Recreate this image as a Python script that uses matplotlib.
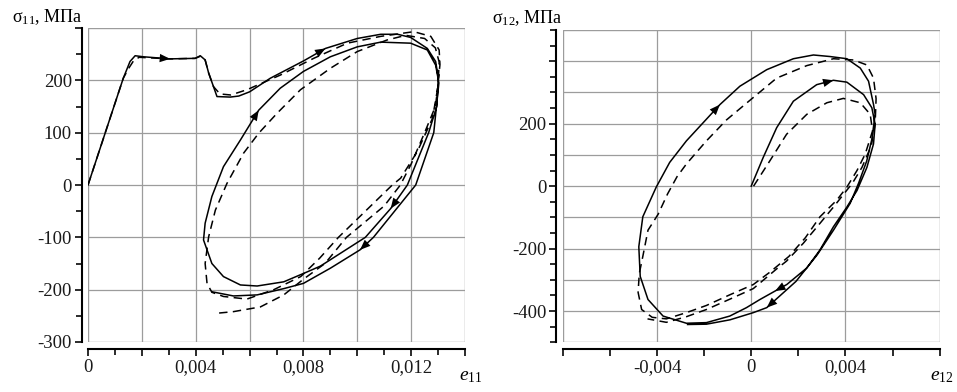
import numpy as np
import matplotlib
matplotlib.use('Agg')
import matplotlib.pyplot as plt
from matplotlib.patches import Rectangle

plt.rcParams['font.family'] = ['Liberation Serif', 'DejaVu Serif']
plt.rcParams['mathtext.fontset'] = 'custom'
plt.rcParams['mathtext.rm'] = 'Liberation Serif'
plt.rcParams['mathtext.it'] = 'Liberation Serif:italic'

# ---- left panel: sigma11 vs e11 ----
e11_solid = [0, 0.00131, 0.00156, 0.00175, 0.00206, 0.00305, 0.00398, 0.00417, 0.00435, 0.00448,
             0.00466, 0.00479, 0.00528, 0.00560, 0.0060, 0.00677, 0.0080, 0.00882, 0.0100, 0.01087,
             0.0115, 0.01198, 0.0126, 0.01291, 0.01301, 0.01295, 0.01265, 0.01186, 0.01124, 0.0103,
             0.00863, 0.00814, 0.00727, 0.00628, 0.00566, 0.00503, 0.0046, 0.00429, 0.00435, 0.0046,
             0.00503, 0.00566, 0.00634, 0.00714, 0.0080, 0.0090, 0.0100, 0.01087, 0.01198, 0.0126,
             0.01291, 0.01303, 0.01284, 0.01217, 0.0106, 0.0101, 0.0090, 0.0080, 0.00727, 0.00628,
             0.0054, 0.0046]
s11_solid = [0, 204, 236, 247, 245, 241, 242, 247, 239, 214,
             188, 169, 168, 170, 178, 204, 237, 261, 280, 288,
             288, 282, 261, 236, 204, 150, 100, 0, -45, -100,
             -155, -166, -185, -193, -191, -175, -150, -105, -73, -22,
             35, 86, 143, 185, 217, 245, 264, 273, 271, 258,
             229, 195, 100, 0, -100, -124, -159, -188, -198, -210,
             -212, -204]
e11_dash = [0, 0.00131, 0.0015, 0.0017, 0.0019, 0.00305, 0.00398, 0.00417, 0.00435, 0.00448,
            0.00466, 0.0049, 0.0053, 0.0059, 0.00714, 0.00838, 0.00963, 0.01087, 0.0121, 0.01273,
            0.01304, 0.01307, 0.01297, 0.01279, 0.01223, 0.01161, 0.0113, 0.0093, 0.0086, 0.0079,
            0.0069, 0.0059, 0.00503, 0.0046, 0.00442, 0.00435, 0.00448, 0.00473, 0.00516, 0.00578,
            0.00634, 0.00702, 0.00789, 0.0090, 0.0100, 0.0111, 0.0118, 0.0125, 0.0129, 0.01304,
            0.0130, 0.0129, 0.0125, 0.0120, 0.0116, 0.0110, 0.0096, 0.0088, 0.0080, 0.00727,
            0.0064, 0.0054, 0.0048]
s11_dash = [0, 204, 222, 238, 244, 241, 242, 246, 239, 214,
            188, 174, 172, 182, 210, 242, 271, 284, 293, 284,
            258, 230, 180, 127, 64, 13, 0, -100, -140, -175,
            -200, -218, -213, -205, -188, -150, -99, -48, 3, 61,
            99, 137, 182, 223, 255, 277, 286, 280, 262, 235,
            190, 150, 100, 40, 0, -40, -100, -150, -180, -210,
            -233, -242, -245]
arrows_left = [(4, 5), (16, 17), (41, 42), (27, 28), (54, 55)]

# ---- right panel: sigma12 vs e12 ----
e12_solid = [0, 0.00051, 0.00108, 0.00179, 0.00278, 0.00349, 0.00406, 0.00477, 0.00512, 0.00526,
             0.00519, 0.00491, 0.00449, 0.00406, 0.00349, 0.00292, 0.00236, 0.00151, 0.00101, 0.00037,
             -0.0002, -0.00091, -0.0019, -0.00275, -0.00374, -0.00438, -0.00471, -0.00477, -0.0046, -0.00403,
             -0.00346, -0.00275, -0.00204, -0.00133, -0.00048, 0.00066, 0.00179, 0.00264, 0.00335, 0.00406,
             0.00463, 0.00498, 0.00519, 0.00526, 0.00512, 0.0049, 0.00456, 0.0042, 0.0035, 0.0028,
             0.0019, 0.00066, 0.00009, -0.0009, -0.0019, -0.0027]
s12_solid = [0, 92, 187, 272, 325, 339, 333, 293, 251, 198,
             135, 60, -14, -67, -130, -204, -262, -315, -336, -363,
             -389, -416, -437, -439, -416, -363, -289, -194, -98, -3,
             76, 145, 203, 261, 320, 373, 408, 420, 415, 408,
             378, 336, 262, 230, 150, 80, 10, -55, -140, -220,
             -305, -389, -405, -428, -442, -443]
e12_dash = [0.0001, 0.0008, 0.0015, 0.00236, 0.00321, 0.00391, 0.00463, 0.00505, 0.00515, 0.00484,
            0.00449, 0.00406, 0.00363, 0.00292, 0.0023, 0.0016, 0.0008, 0.00009, -0.00091, -0.0019,
            -0.00275, -0.0036, -0.0042, -0.00465, -0.0048, -0.00475, -0.0046, -0.00438, -0.00395, -0.00355,
            -0.00315, -0.00275, -0.0019, -0.00105, -0.0001, 0.00108, 0.00236, 0.00349, 0.00434, 0.00491,
            0.00519, 0.0053, 0.00526, 0.0051, 0.0047, 0.0043, 0.00349, 0.00292, 0.00221, 0.0015,
            0.00108, 0.00009, -0.00091, -0.0019, -0.00275, -0.0036, -0.0044]
s12_dash = [0, 82, 166, 230, 267, 281, 267, 230, 177, 103,
            50, -3, -45, -98, -165, -225, -275, -315, -348, -382,
            -405, -425, -420, -395, -340, -280, -225, -141, -90, -25,
            30, 71, 145, 212, 272, 346, 386, 408, 404, 388,
            346, 280, 200, 130, 60, 10, -67, -119, -183, -240,
            -265, -328, -362, -395, -418, -436, -425]
arrows_right = [(4, 5), (32, 33), (17, 18), (50, 51)]

right_xgrid = [-0.004, 0, 0.004]

fig = plt.figure(figsize=(9.57, 3.92), dpi=100)
ax1 = fig.add_axes([88 / 957, 50 / 392, 377 / 957, 314 / 392])
ax2 = fig.add_axes([562.7 / 957, 49.7 / 392, 377 / 957, 312.3 / 392])

grid_c = '#9c9c9c'


def style_axes(ax, xlim, ylim, xgrid, ygrid):
    ax.set_xlim(*xlim)
    ax.set_ylim(*ylim)
    for g in xgrid:
        ax.axvline(g, color=grid_c, lw=0.9, zorder=0)
    for g in ygrid:
        ax.axhline(g, color=grid_c, lw=0.9, zorder=0)
    ax.add_patch(Rectangle((0, 0), 1, 1, transform=ax.transAxes, fill=False,
                           ec=grid_c, lw=1.0, zorder=0))
    ax.spines['top'].set_visible(False)
    ax.spines['right'].set_visible(False)
    ax.spines['left'].set_position(('outward', 4.5))
    ax.spines['bottom'].set_position(('outward', 5))
    ax.spines['left'].set_linewidth(1.5)
    ax.spines['bottom'].set_linewidth(1.5)
    ax.tick_params(which='both', direction='out', width=1.3, labelsize=13.5, colors='#1a1a1a')
    ax.tick_params(which='major', length=5, pad=2)
    ax.tick_params(which='minor', length=4)


def draw_curves(ax, xs, ys, xd, yd, arrows):
    ax.plot(xs, ys, color='k', lw=1.1, zorder=3)
    ax.plot(xd, yd, color='k', lw=1.1, dashes=(5.5, 3.5), zorder=3)
    for a, b in arrows:
        ax.annotate('', xy=(xs[b], ys[b]), xytext=(xs[a], ys[a]),
                    arrowprops=dict(arrowstyle='-|>,head_length=0.75,head_width=0.3',
                                    color='k', lw=0, shrinkA=0, shrinkB=0,
                                    mutation_scale=10), zorder=4)


# left panel
style_axes(ax1, (0, 0.014), (-300, 300),
           np.arange(0.002, 0.0139, 0.002), np.arange(-200, 201, 100))
draw_curves(ax1, e11_solid, s11_solid, e11_dash, s11_dash, arrows_left)
ax1.set_xticks(np.arange(0, 0.01401, 0.002), minor=False)
ax1.set_xticklabels(['0', '', '0,004', '', '0,008', '', '0,012', ''])
ax1.set_xticks(np.arange(0, 0.01401, 0.001), minor=True)
ax1.set_yticks(np.arange(-300, 301, 100))
ax1.set_yticklabels(['-300', '-200', '-100', '0', '100', '200', ''])
ax1.set_yticks(np.arange(-300, 301, 50), minor=True)

# right panel
style_axes(ax2, (-0.008, 0.008), (-500, 500),
           right_xgrid, np.arange(-400, 401, 100))
draw_curves(ax2, e12_solid, s12_solid, e12_dash, s12_dash, arrows_right)
ax2.set_xticks(np.arange(-0.008, 0.00801, 0.002))
ax2.set_xticklabels(['', '', '-0,004', '', '0', '', '0,004', '', ''])
ax2.set_yticks(np.arange(-400, 401, 200))
ax2.set_yticklabels(['-400', '-200', '0', '200', ''])
ax2.set_yticks(np.arange(-500, 501, 50), minor=True)

# axis titles
fig.text(12 / 957, 1 - 22 / 392, r'σ$_{\mathregular{11}}$, МПа', fontsize=13, va='baseline')
fig.text(492 / 957, 1 - 23 / 392, r'σ$_{\mathregular{12}}$, МПа', fontsize=13, va='baseline')
fig.text(459 / 957, 12 / 392, r'$e_{\mathrm{11}}$', fontsize=14, va='baseline')
fig.text(930 / 957, 12 / 392, r'$e_{\mathrm{12}}$', fontsize=14, va='baseline')

fig.savefig('out.png', dpi=100)
